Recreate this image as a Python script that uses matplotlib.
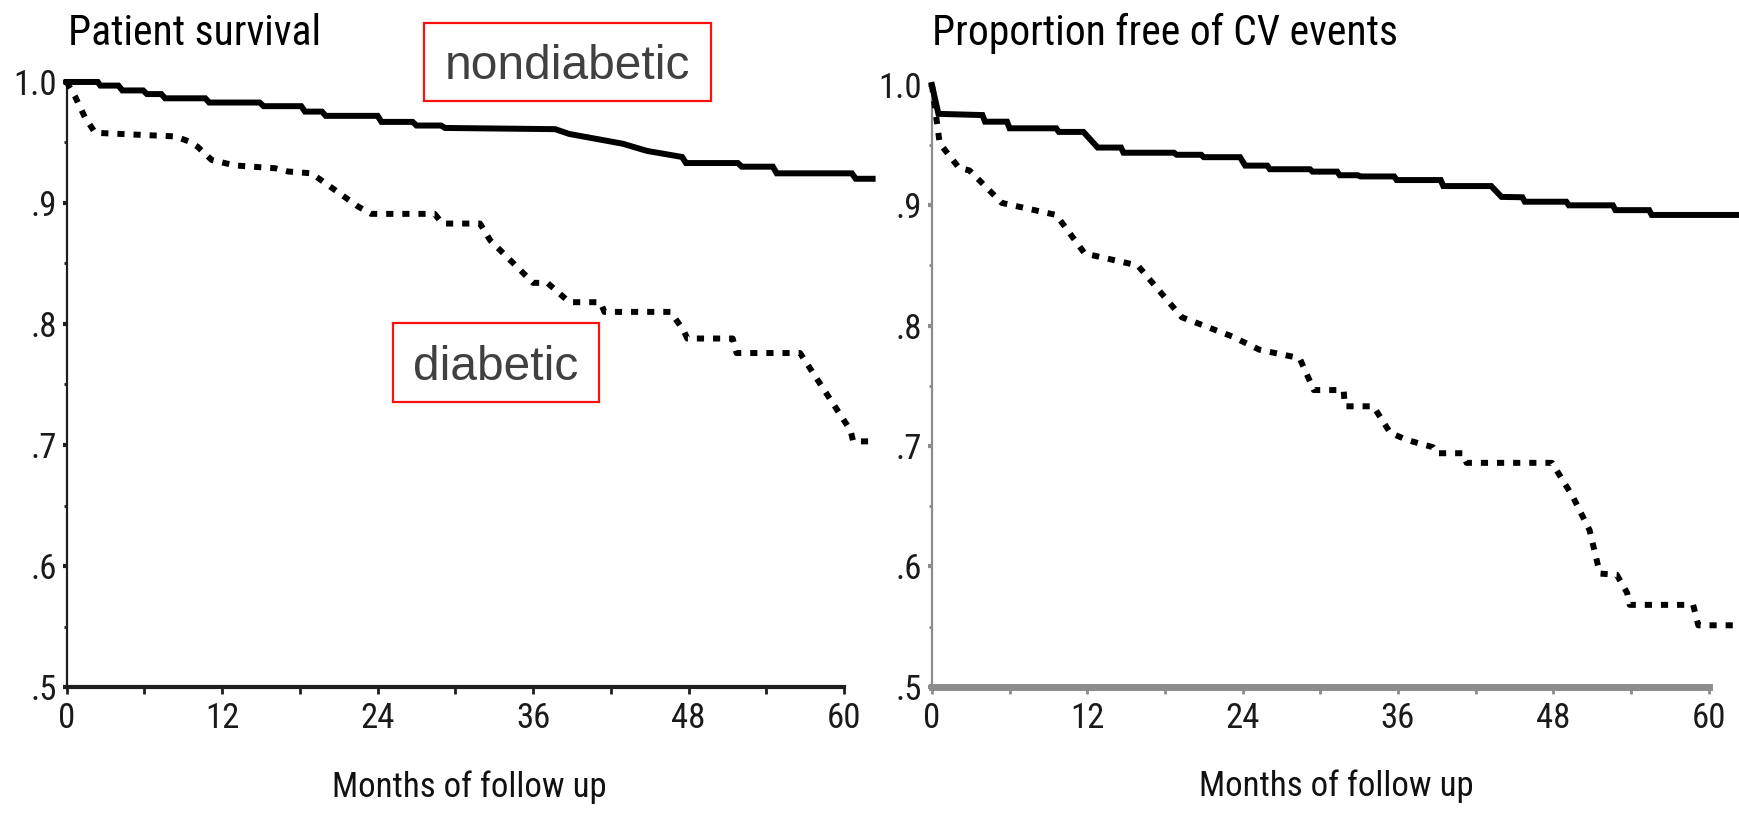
import matplotlib
matplotlib.use("Agg")
import matplotlib.pyplot as plt
from matplotlib import font_manager
from matplotlib.patches import Rectangle

# Kaplan-Meier curves (months, proportion)
surv_nd_t = [0, 2.4, 2.6, 4.0, 4.3, 5.9, 6.2, 7.3, 7.6, 10.7, 11.0, 14.9, 15.2, 18.1, 18.4, 19.7, 20.0, 24.0, 24.3,
             26.7, 27.0, 28.9, 29.2, 37.7, 38.8, 40.6, 42.9, 44.8, 47.5, 47.8, 51.8, 52.1, 54.5, 54.8, 60.6, 60.9, 62.2]
surv_nd_s = [1.0, 1.0, 0.997, 0.997, 0.993, 0.993, 0.990, 0.990, 0.9865, 0.9865, 0.983, 0.983, 0.980, 0.980, 0.9755,
             0.9755, 0.972, 0.972, 0.967, 0.967, 0.964, 0.964, 0.962, 0.961, 0.957, 0.9535, 0.949, 0.943, 0.938, 0.933,
             0.933, 0.930, 0.930, 0.9245, 0.9245, 0.920, 0.920]

surv_d_t = [0, 0.65, 1.4, 2.2, 8.4, 9.4, 10.1, 11.2, 13.0, 16.1, 17.1, 18.9, 22.5, 23.5, 28.4, 29.0, 31.9, 32.7, 36.0,
            37.1, 38.8, 41.2, 41.5, 46.6, 47.6, 47.9, 51.4, 51.7, 56.6, 60.5, 60.7, 62.2]
surv_d_s = [1.0, 0.988, 0.971, 0.958, 0.955, 0.951, 0.9465, 0.9355, 0.931, 0.9287, 0.926, 0.9245, 0.897, 0.891, 0.891,
            0.883, 0.883, 0.869, 0.834, 0.834, 0.818, 0.818, 0.810, 0.810, 0.795, 0.788, 0.788, 0.776, 0.776, 0.712,
            0.703, 0.703]

cv_nd_t = [0, 0.5, 3.9, 4.1, 5.8, 6.0, 9.6, 9.8, 11.7, 12.8, 14.6, 14.8, 18.7, 18.9, 20.8, 21.0, 23.8, 24.2, 25.9,
           26.1, 29.2, 29.4, 31.3, 31.5, 32.9, 33.1, 35.7, 35.9, 39.3, 39.5, 43.2, 44.0, 45.6, 45.8, 49.0, 49.2, 52.6,
           52.8, 55.4, 55.6, 62.5]
cv_nd_s = [1.0, 0.976, 0.975, 0.9695, 0.9695, 0.964, 0.964, 0.961, 0.961, 0.948, 0.948, 0.9437, 0.9437, 0.942, 0.942,
           0.940, 0.940, 0.933, 0.933, 0.930, 0.930, 0.928, 0.928, 0.925, 0.925, 0.924, 0.924, 0.921, 0.921, 0.916,
           0.916, 0.907, 0.9067, 0.903, 0.903, 0.900, 0.900, 0.896, 0.896, 0.892, 0.892]

cv_d_t = [0, 0.6, 2.1, 2.9, 5.4, 9.6, 11.8, 15.9, 19.3, 23.2, 25.3, 28.4, 29.5, 31.8, 31.9, 34.1, 35.4, 36.7, 38.7,
          39.0, 41.0, 41.3, 47.9, 49.5, 50.8, 51.6, 52.9, 53.7, 53.9, 58.8, 59.2, 62.5]
cv_d_s = [1.0, 0.9515, 0.931, 0.929, 0.902, 0.892, 0.860, 0.850, 0.807, 0.791, 0.780, 0.773, 0.7465, 0.7465, 0.733,
          0.733, 0.711, 0.705, 0.699, 0.694, 0.694, 0.686, 0.686, 0.658, 0.630, 0.594, 0.593, 0.578, 0.568, 0.568,
          0.551, 0.551]

x_major = [0, 12, 24, 36, 48, 60]
x_minor = [6, 18, 30, 42, 54]
y_major = [0.5, 0.6, 0.7, 0.8, 0.9, 1.0]
y_labels = [".5", ".6", ".7", ".8", ".9", "1.0"]
y_minor = [0.55, 0.65, 0.75, 0.85, 0.95]

# pick a narrow grotesque (the scan uses Arial Narrow)
names = {f.name for f in font_manager.fontManager.ttflist}
NARROW = next((n for n in ["Arial Narrow", "Liberation Sans Narrow", "Roboto Condensed", "Archivo Narrow",
                           "PT Sans Narrow", "Pragati Narrow", "Fira Sans Condensed", "IBM Plex Sans Condensed"]
               if n in names), "DejaVu Sans")
REGULAR = next((n for n in ["Arial", "Liberation Sans", "Arimo"] if n in names), "DejaVu Sans")


def style_axis(ax, xmax, col, bottom_lw, title, title_x):
    ax.set_xlim(0, xmax)
    ax.set_ylim(0.5, 1.0)
    for s in ["top", "right"]:
        ax.spines[s].set_visible(False)
    ax.spines["bottom"].set_bounds(0, 60)
    ax.spines["bottom"].set_linewidth(bottom_lw)
    ax.spines["bottom"].set_color(col)
    ax.spines["left"].set_linewidth(1.6)
    ax.spines["left"].set_color(col)
    ax.set_xticks(x_major)
    ax.set_xticks(x_minor, minor=True)
    ax.set_yticks(y_major)
    ax.set_yticklabels(y_labels)
    ax.set_yticks(y_minor, minor=True)
    ax.tick_params(axis="x", which="both", direction="out", length=5, width=2, pad=6,
                   labelsize=25, color=col, labelcolor="#1a1a1a")
    ax.tick_params(axis="y", which="major", direction="out", length=3, width=3, pad=4,
                   labelsize=25, color=col, labelcolor="#1a1a1a")
    ax.tick_params(axis="y", which="minor", direction="out", length=2, width=2, color=col)
    for lab in ax.get_xticklabels() + ax.get_yticklabels():
        lab.set_family(NARROW)
    ax.set_xlabel("Months of follow up", fontsize=25, family=NARROW, labelpad=25, color="#111111")
    fig.text(title_x, 0.945, title, fontsize=30, family=NARROW, ha="left", va="baseline")


fig = plt.figure(figsize=(17.4, 8.14), dpi=100)
ax1 = fig.add_axes([0.0383, 0.1560, 0.4632, 0.7433])
ax2 = fig.add_axes([0.5356, 0.1564, 0.4650, 0.7392])

style_axis(ax1, 62.2, "#1e1e1e", 3.0, "Patient survival", 0.039)
style_axis(ax2, 62.5, "#8c8c8c", 5.0, "Proportion free of CV events", 0.5356)

dash = (0, (1.2, 1.5))
for ax, nd_t, nd_s, d_t, d_s in [(ax1, surv_nd_t, surv_nd_s, surv_d_t, surv_d_s),
                                 (ax2, cv_nd_t, cv_nd_s, cv_d_t, cv_d_s)]:
    ax.plot(nd_t, nd_s, color="black", lw=4.3, solid_joinstyle="miter", clip_on=False, zorder=3)
    ax.plot(d_t, d_s, color="black", lw=4.3, linestyle=dash, dash_capstyle="butt", clip_on=False, zorder=3)

# red-framed group labels
for label, x0, y0, w, h in [("nondiabetic", 0.2437, 0.8759, 0.1649, 0.0958),
                            ("diabetic", 0.2259, 0.5061, 0.1184, 0.0971)]:
    fig.patches.append(Rectangle((x0, y0), w, h, transform=fig.transFigure, fill=False,
                                 edgecolor="#ff1010", lw=1.6))
    fig.text(x0 + w / 2, y0 + h * 0.28, label, fontsize=34.5, family=REGULAR,
             color="#404040", ha="center", va="baseline")

fig.savefig("out.png", dpi=100)
